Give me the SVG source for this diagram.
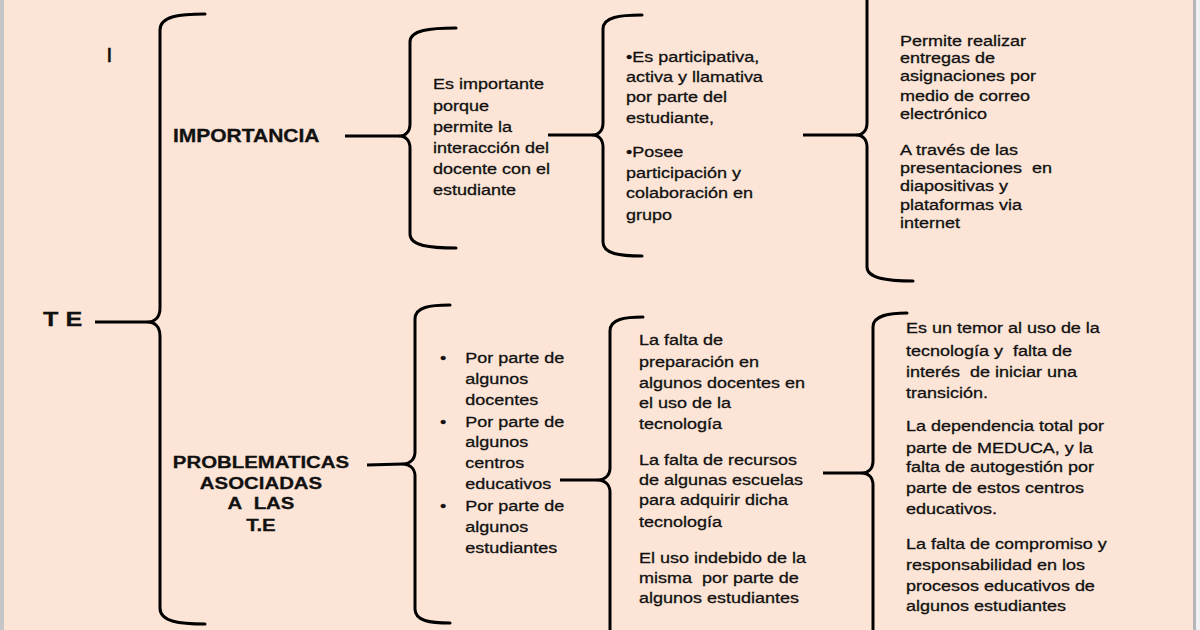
<svg xmlns="http://www.w3.org/2000/svg" width="1200" height="630" viewBox="0 0 1200 630">
<style>
.t{font-family:"Liberation Sans",Arial,sans-serif;font-size:15px;fill:#111;stroke:#111;stroke-width:0.3}
.b{font-family:"Liberation Sans",Arial,sans-serif;font-weight:bold;fill:#111;stroke:#111;stroke-width:0.3}
.br{fill:none;stroke:#000;stroke-width:3;stroke-linecap:round;stroke-linejoin:round}
.ln{fill:none;stroke:#000;stroke-width:3}
</style>
<rect x="0" y="0" width="1200" height="630" fill="#fce4d6"/>
<rect x="0" y="0" width="4" height="630" fill="#c4c6c8"/>
<rect x="1193" y="0" width="3" height="630" fill="#b4b6b8"/>
<rect x="1196" y="0" width="4" height="630" fill="#eef0f2"/>

<g id="connectors">
  <path class="br" d="M205,14 C180,14 160,16 160,30 L160,308 C160,318 154,322 148,322 C154,322 160,326 160,336 L160,608 C160,622 180,624 205,624"/>
  <path class="br" d="M456,28 C430,28 410,30 410,42 L410,124 C410,132 405,136 400,136 C405,136 410,140 410,148 L410,234 C410,246 430,248 456,248"/>
  <path class="br" d="M642,15 C620,15 603,17 603,29 L603,123 C603,131 598,135 593,135 C598,135 603,139 603,147 L603,242 C603,254 620,256 642,256"/>
  <path class="br" d="M913,-20 C890,-20 867,-18 867,-6 L867,123 C867,131 862,135 857,135 C862,135 867,139 867,147 L867,267 C867,279 890,281 913,281"/>
  <path class="br" d="M450,305 C430,305 415,307 415,319 L415,452 C415,460 409,464 403,464 C409,464 415,468 415,476 L415,609 C415,621 430,623 450,623"/>
  <path class="br" d="M643,317 C625,317 610,319 610,331 L610,468 C610,476 604,480 598,480 C604,480 610,484 610,492 L610,660"/>
  <path class="br" d="M907,313 C890,313 873,315 873,327 L873,461 C873,469 868,473 862,473 C868,473 873,477 873,485 L873,660"/>
  <line class="ln" x1="95" y1="322" x2="148" y2="322"/>
  <line class="ln" x1="345" y1="136" x2="400" y2="136"/>
  <line class="ln" x1="548" y1="135" x2="593" y2="135"/>
  <line class="ln" x1="803" y1="135" x2="857" y2="135"/>
  <line class="ln" x1="367" y1="465" x2="403" y2="464"/>
  <line class="ln" x1="560" y1="480" x2="598" y2="480"/>
  <line class="ln" x1="823" y1="473" x2="862" y2="473"/>
</g>

<g id="node-i" transform="translate(106,0) scale(1.2,1)">
  <text class="t" x="0" y="62" style="font-size:20px">I</text>
</g>

<g id="node-te" transform="translate(43,0) scale(1.2,1)">
  <text class="b" x="0" y="326" style="font-size:21px">T E</text>
</g>

<g id="node-importancia" transform="translate(173,0) scale(1.2,1)">
  <text class="b" x="0" y="142" style="font-size:17.5px">IMPORTANCIA</text>
</g>

<g id="node-problematicas" transform="translate(261,0) scale(1.2,1)">
  <text class="b" text-anchor="middle" x="0" y="468" style="font-size:17px">PROBLEMATICAS</text>
  <text class="b" text-anchor="middle" x="0" y="489" style="font-size:17px">ASOCIADAS</text>
  <text class="b" text-anchor="middle" x="0" y="509" style="font-size:17px">A&#160; LAS</text>
  <text class="b" text-anchor="middle" x="0" y="531" style="font-size:17px">T.E</text>
</g>

<g id="node-es-importante" transform="translate(433,0) scale(1.2,1)">
  <text class="t">
    <tspan x="0" y="89">Es importante</tspan>
    <tspan x="0" y="111">porque</tspan>
    <tspan x="0" y="132">permite la</tspan>
    <tspan x="0" y="153">interacción del</tspan>
    <tspan x="0" y="174">docente con el</tspan>
    <tspan x="0" y="195">estudiante</tspan>
  </text>
</g>

<g id="node-participativa" transform="translate(626,0) scale(1.2,1)">
  <text class="t">
    <tspan x="0" y="62">•Es participativa,</tspan>
    <tspan x="0" y="82">activa y llamativa</tspan>
    <tspan x="0" y="102">por parte del</tspan>
    <tspan x="0" y="123">estudiante,</tspan>
    <tspan x="0" y="157">•Posee</tspan>
    <tspan x="0" y="178">participación y</tspan>
    <tspan x="0" y="198">colaboración en</tspan>
    <tspan x="0" y="220">grupo</tspan>
  </text>
</g>

<g id="node-correo" transform="translate(900,0) scale(1.2,1)">
  <text class="t">
    <tspan x="0" y="46">Permite realizar</tspan>
    <tspan x="0" y="63">entregas de</tspan>
    <tspan x="0" y="81">asignaciones por</tspan>
    <tspan x="0" y="101">medio de correo</tspan>
    <tspan x="0" y="119">electrónico</tspan>
    <tspan x="0" y="155">A través de las</tspan>
    <tspan x="0" y="173">presentaciones&#160; en</tspan>
    <tspan x="0" y="191">diapositivas y</tspan>
    <tspan x="0" y="210">plataformas via</tspan>
    <tspan x="0" y="228">internet</tspan>
  </text>
</g>

<g id="node-por-parte" transform="translate(440,0) scale(1.2,1)">
  <text class="t">
    <tspan x="0" y="363">•</tspan>
    <tspan x="0" y="427">•</tspan>
    <tspan x="0" y="511">•</tspan>
  </text>
  <text class="t">
    <tspan x="21" y="363">Por parte de</tspan>
    <tspan x="21" y="384">algunos</tspan>
    <tspan x="21" y="405">docentes</tspan>
    <tspan x="21" y="427">Por parte de</tspan>
    <tspan x="21" y="447">algunos</tspan>
    <tspan x="21" y="468">centros</tspan>
    <tspan x="21" y="489">educativos</tspan>
    <tspan x="21" y="511">Por parte de</tspan>
    <tspan x="21" y="532">algunos</tspan>
    <tspan x="21" y="553">estudiantes</tspan>
  </text>
</g>

<g id="node-falta" transform="translate(639,0) scale(1.2,1)">
  <text class="t">
    <tspan x="0" y="345">La falta de</tspan>
    <tspan x="0" y="367">preparación en</tspan>
    <tspan x="0" y="388">algunos docentes en</tspan>
    <tspan x="0" y="408">el uso de la</tspan>
    <tspan x="0" y="429">tecnología</tspan>
    <tspan x="0" y="465">La falta de recursos</tspan>
    <tspan x="0" y="485">de algunas escuelas</tspan>
    <tspan x="0" y="505">para adquirir dicha</tspan>
    <tspan x="0" y="527">tecnología</tspan>
    <tspan x="0" y="563">El uso indebido de la</tspan>
    <tspan x="0" y="583">misma&#160; por parte de</tspan>
    <tspan x="0" y="603">algunos estudiantes</tspan>
  </text>
</g>

<g id="node-temor" transform="translate(906,0) scale(1.2,1)">
  <text class="t">
    <tspan x="0" y="333">Es un temor al uso de la</tspan>
    <tspan x="0" y="356">tecnología y&#160; falta de</tspan>
    <tspan x="0" y="377">interés&#160; de iniciar una</tspan>
    <tspan x="0" y="398">transición.</tspan>
    <tspan x="0" y="431">La dependencia total por</tspan>
    <tspan x="0" y="453">parte de MEDUCA, y la</tspan>
    <tspan x="0" y="472">falta de autogestión por</tspan>
    <tspan x="0" y="493">parte de estos centros</tspan>
    <tspan x="0" y="514">educativos.</tspan>
    <tspan x="0" y="549">La falta de compromiso y</tspan>
    <tspan x="0" y="570">responsabilidad en los</tspan>
    <tspan x="0" y="591">procesos educativos de</tspan>
    <tspan x="0" y="611">algunos estudiantes</tspan>
  </text>
</g>
</svg>
